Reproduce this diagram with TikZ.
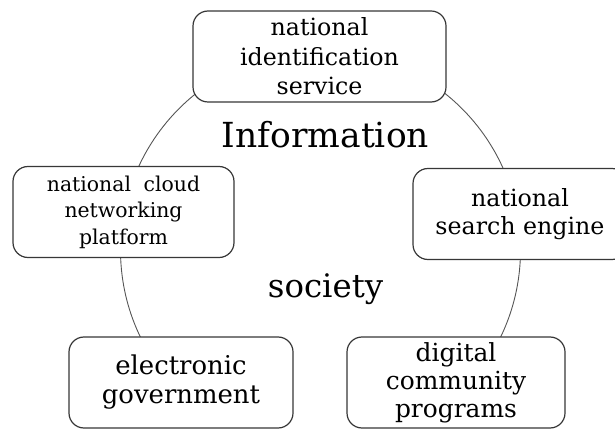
\documentclass[tikz,border=0pt]{standalone}
\usepackage{fontspec}
\setmainfont{DejaVu Serif}
\usepackage{tikz}
\usetikzlibrary{positioning}
\definecolor{boxGray}{RGB}{55, 55, 55}
\definecolor{ringGray}{RGB}{85, 85, 85}

\newcommand{\fs}[2]{\fontsize{#1}{#2}\selectfont}

\begin{document}
\begin{tikzpicture}[
    x=1pt, y=-1pt,
    roundbox/.style={rectangle, draw=boxGray, line width=1.2pt, fill=white,
                minimum height=91pt, rounded corners=15pt, align=center,
                inner sep=0pt},
    ring/.style={draw=ringGray, line width=0.9pt},
  ]
    \useasboundingbox (0,0) rectangle (615,430);

    % ring behind the boxes, cut off at the bottom
    \coordinate (C) at (320.5,250);
    \begin{scope}
      \clip (0,0) rectangle (615,426);
      \draw[ring] (C) circle (200);
    \end{scope}

    \node[roundbox, minimum width=253pt, font=\fs{23.7}{29.5}] (NIS)
         at (319.5,56.5) {national\\identification\\service};
    \node[roundbox, minimum width=221pt, font=\fs{20.4}{26.5}] (NCP)
         at (123.5,212) {national\hspace{0.3em} cloud\\networking\\platform};
    \node[roundbox, minimum width=214pt, font=\fs{23.7}{28}] (NSE)
         at (520,214) {national\\search engine};
    \node[roundbox, minimum width=224pt, font=\fs{25.9}{29}] (EGOV)
         at (181,382.5) {electronic\\government};
    \node[roundbox, minimum width=218pt, font=\fs{24.9}{28}] (DCP)
         at (456,382.5) {digital\\community\\programs};

    \node[anchor=base, font=\fs{34.5}{35}] (INFO) at (325.5,148) {Information};
    \node[anchor=base, font=\fs{32.4}{33}] (SOC) at (325.5,297) {society};
  \end{tikzpicture}
\end{document}
